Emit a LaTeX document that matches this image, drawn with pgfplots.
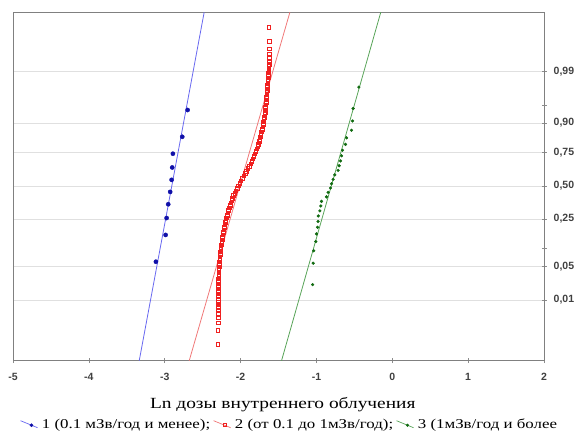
\documentclass[border=0pt]{standalone}
\usepackage{fontspec}
\setmainfont{Liberation Serif}
\newfontfamily\ticksf{Liberation Sans}
\newfontfamily\wideserif[FakeStretch=1.25]{Liberation Serif}
\usepackage{pgfplots}
\pgfplotsset{compat=1.18}
\definecolor{blueline}{HTML}{6868F0}
\definecolor{bluemark}{HTML}{1010A8}
\definecolor{redline}{HTML}{F07878}
\definecolor{redmark}{HTML}{F02020}
\definecolor{greenline}{HTML}{58A458}
\definecolor{greenmark}{HTML}{106A10}
\begin{document}
\begin{tikzpicture}
\path[use as bounding box] (-13pt,-75.3pt) rectangle (564pt,360.7pt);
\begin{axis}[
  at={(0pt,0pt)}, anchor=south west,
  scale only axis, width=531pt, height=348.4pt,
  xmin=-5, xmax=2, ymin=-3.563, ymax=3.537,
  xtick={-5,-4,-3,-2,-1,0,1,2},
  ytick={-2.3263,-1.6449,-0.6745,0,0.6745,1.2816,2.3263},
  yticklabels={{0,01},{0,05},{0,25},{0,50},{0,75},{0,90},{0,99}},
  extra y ticks={-1.2816,1.6449},
  extra y tick labels={},
  extra y tick style={grid=none},
  xtick pos=bottom, ytick pos=right, yticklabel pos=right,
  tick align=center, major tick length=5pt,
  tick style={draw=black!45, line width=0.6pt},
  axis line style={draw=black!50, line width=0.9pt},
  ymajorgrids, major grid style={draw=black!12, line width=0.7pt},
  /pgf/number format/assume math mode=true,
  xticklabel style={font=\ticksf\bfseries\fontsize{10.5}{13}\selectfont, text=black!75, anchor=north, inner sep=0pt, yshift=-10pt},
  yticklabel style={font=\ticksf\bfseries\fontsize{10.5}{13}\selectfont, text=black!75, anchor=west, inner sep=0pt, xshift=7pt},
  xlabel={Ln дозы внутреннего облучения},
  x label style={font=\wideserif\fontsize{15.5}{18}\selectfont, at={(axis description cs:0.508,0)}, anchor=center, yshift=-43.5pt},
  legend columns=3,
  legend style={at={(axis description cs:0,0)}, anchor=west, xshift=4pt, yshift=-63.5pt,
    draw=none, fill=none, font=\wideserif\fontsize{13.5}{15}\selectfont,
    nodes={inner sep=0pt},
    /tikz/every odd column/.append style={column sep=4pt},
    /tikz/every even column/.append style={column sep=3pt}},
]
\addlegendimage{legend image code/.code={\draw[draw=blueline,line width=0.7pt] (0pt,3.5pt) -- (17pt,-3.5pt); \fill[bluemark] (11pt,-1pt) circle (1.6pt);}}
\addlegendentry{1 (0.1 мЗв/год и менее);}
\addlegendimage{legend image code/.code={\draw[draw=redline,line width=0.7pt] (0pt,3.5pt) -- (17pt,-3.5pt); \draw[redmark,line width=0.7pt] (9.6pt,-2.4pt) rectangle (12.4pt,0.4pt);}}
\addlegendentry{2 (от 0.1 до 1мЗв/год);}
\addlegendimage{legend image code/.code={\draw[draw=greenline,line width=0.7pt] (0pt,3.5pt) -- (17pt,-3.5pt); \fill[greenmark] (11pt,-1pt) circle (1.3pt);}}
\addlegendentry{3 (1мЗв/год и более}

% fitted lines
\addplot[blueline, line width=0.8pt, forget plot] coordinates {(-3.336,-3.563) (-2.480,3.537)};
\addplot[redline, line width=0.8pt, forget plot] coordinates {(-2.677,-3.563) (-1.350,3.537)};
\addplot[greenline, line width=0.8pt, forget plot] coordinates {(-1.460,-3.563) (-0.152,3.537)};

% group 2 (red)
\addplot[only marks, mark=square, mark size=1.8pt, mark options={draw=redmark, line width=0.85pt}, forget plot] table {
x y
-2.296 -3.23
-2.296 -2.94
-2.295 -2.79
-2.295 -2.69
-2.294 -2.60
-2.294 -2.54
-2.294 -2.48
-2.294 -2.43
-2.293 -2.38
-2.293 -2.34
-2.293 -2.30
-2.293 -2.25
-2.293 -2.20
-2.292 -2.15
-2.292 -2.10
-2.292 -2.05
-2.292 -2.00
-2.291 -1.95
-2.289 -1.90
-2.288 -1.85
-2.286 -1.80
-2.285 -1.75
-2.283 -1.70
-2.282 -1.65
-2.280 -1.60
-2.277 -1.55
-2.274 -1.50
-2.271 -1.45
-2.267 -1.40
-2.264 -1.35
-2.261 -1.30
-2.258 -1.25
-2.253 -1.20
-2.248 -1.15
-2.243 -1.10
-2.237 -1.05
-2.232 -1.00
-2.227 -0.95
-2.222 -0.90
-2.214 -0.85
-2.207 -0.80
-2.199 -0.75
-2.191 -0.70
-2.183 -0.65
-2.176 -0.60
-2.168 -0.55
-2.158 -0.50
-2.147 -0.45
-2.137 -0.40
-2.126 -0.35
-2.116 -0.30
-2.105 -0.25
-2.091 -0.20
-2.075 -0.15
-2.059 -0.10
-2.042 -0.05
-2.026 0.00
-2.010 0.05
-1.994 0.10
-1.976 0.15
-1.957 0.20
-1.939 0.25
-1.920 0.30
-1.902 0.35
-1.883 0.40
-1.865 0.45
-1.849 0.50
-1.836 0.55
-1.824 0.60
-1.811 0.65
-1.798 0.70
-1.785 0.75
-1.772 0.80
-1.764 0.85
-1.755 0.90
-1.747 0.95
-1.739 1.00
-1.730 1.05
-1.722 1.10
-1.713 1.15
-1.705 1.20
-1.700 1.25
-1.695 1.30
-1.690 1.35
-1.685 1.40
-1.680 1.45
-1.675 1.50
-1.672 1.55
-1.669 1.60
-1.666 1.65
-1.663 1.70
-1.660 1.75
-1.658 1.80
-1.655 1.85
-1.652 1.90
-1.649 1.95
-1.646 2.00
-1.643 2.05
-1.640 2.10
-1.638 2.15
-1.635 2.20
-1.633 2.25
-1.630 2.30
-1.628 2.34
-1.626 2.38
-1.624 2.43
-1.621 2.48
-1.620 2.54
-1.619 2.60
-1.618 2.69
-1.617 2.79
-1.616 2.94
-1.627 3.23
};

% group 1 (blue)
\addplot[only marks, mark=*, mark size=2.1pt, mark options={draw=bluemark, fill=bluemark}, forget plot] table {
x y
-3.116 -1.546
-2.988 -1.000
-2.975 -0.655
-2.954 -0.375
-2.928 -0.123
-2.909 0.123
-2.901 0.375
-2.892 0.655
-2.769 1.000
-2.698 1.546
};

% group 3 (green)
\addplot[only marks, mark=*, mark size=1.4pt, mark options={draw=greenmark, fill=greenmark}, forget plot] table {
x y
-1.050 -2.012
-1.043 -1.576
-1.036 -1.323
-1.008 -1.134
-0.999 -0.979
-0.985 -0.845
-0.978 -0.725
-0.975 -0.613
-0.955 -0.509
-0.942 -0.410
-0.933 -0.316
-0.867 -0.224
-0.846 -0.133
-0.814 -0.044
-0.801 0.044
-0.780 0.133
-0.758 0.224
-0.714 0.316
-0.701 0.410
-0.682 0.509
-0.669 0.613
-0.656 0.725
-0.617 0.845
-0.603 0.979
-0.538 1.134
-0.524 1.323
-0.516 1.576
-0.441 2.012
};
\end{axis}
\end{tikzpicture}
\end{document}
